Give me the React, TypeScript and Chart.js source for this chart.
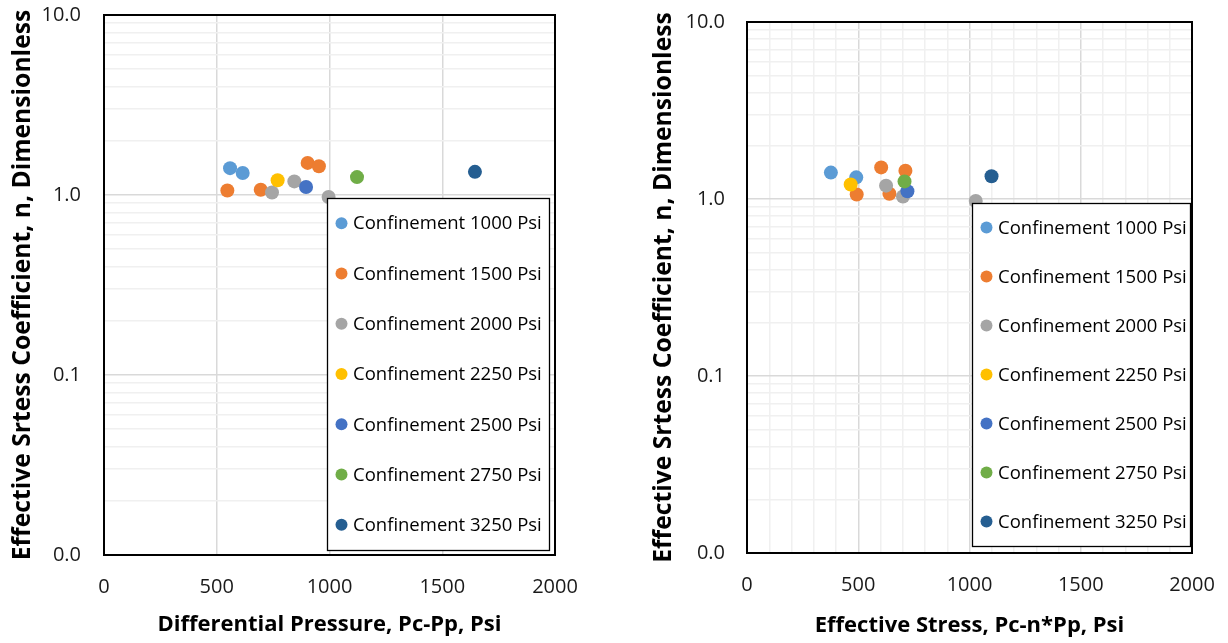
import React, { useEffect, useRef } from "react";
import { Chart, registerables } from "chart.js";

Chart.register(...registerables);

const FONT = '"Open Sans", Lato, "Liberation Sans", sans-serif';

// ---------- data ----------
const seriesLabels = [
  "Confinement 1000 Psi",
  "Confinement 1500 Psi",
  "Confinement 2000 Psi",
  "Confinement 2250 Psi",
  "Confinement 2500 Psi",
  "Confinement 2750 Psi",
  "Confinement 3250 Psi",
];
const seriesColors = ["#5B9BD5", "#ED7D31", "#A5A5A5", "#FFC000", "#4472C4", "#70AD47", "#255E91"];

// Differential pressure, Pc-Pp (psi)
const dp1000 = [559, 615];
const dp1500 = [547, 695, 903, 953];
const dp2000 = [745, 844, 996];
const dp2250 = [770];
const dp2500 = [896];
const dp2750 = [1122];
const dp3250 = [1645];

// Effective stress, Pc-n*Pp (psi)
const es1000 = [377, 491];
const es1500 = [493, 640, 603, 712];
const es2000 = [701, 625, 1028];
const es2250 = [466];
const es2500 = [721];
const es2750 = [708];
const es3250 = [1099];

// Effective stress coefficient n
const n1000 = [1.41, 1.325];
const n1500 = [1.06, 1.07, 1.508, 1.444];
const n2000 = [1.033, 1.19, 0.975];
const n2250 = [1.207];
const n2500 = [1.107];
const n2750 = [1.257];
const n3250 = [1.345];

const xTickValues = [0, 500, 1000, 1500, 2000];
const yDecades = [0.01, 0.1, 1, 10];

const dpSeries = [dp1000, dp1500, dp2000, dp2250, dp2500, dp2750, dp3250];
const esSeries = [es1000, es1500, es2000, es2250, es2500, es2750, es3250];
const nSeries = [n1000, n1500, n2000, n2250, n2500, n2750, n3250];

// ---------- helpers ----------
const isDecade = (v: number) => {
  const l = Math.log10(v);
  return Math.abs(l - Math.round(l)) < 1e-9;
};

const logTicks = () => {
  const out: { value: number }[] = [];
  for (let d = 0; d < yDecades.length - 1; d++) {
    for (let k = 1; k <= 9; k++) {
      out.push({ value: Number((k * yDecades[d]).toPrecision(6)) });
    }
  }
  out.push({ value: yDecades[yDecades.length - 1] });
  return out;
};

const frameLegendPlugin = {
  id: "frameLegend",
  afterDatasetsDraw(chart: any, _args: any, opts: any) {
    const { ctx, chartArea: a } = chart;
    ctx.save();
    ctx.strokeStyle = "#000";
    ctx.lineWidth = 2;
    ctx.strokeRect(a.left, a.top, a.right - a.left, a.bottom - a.top);

    const b = opts.box;
    ctx.fillStyle = "#fff";
    ctx.fillRect(b.left, b.top, b.right - b.left, b.bottom - b.top);
    ctx.lineWidth = 1.3;
    ctx.strokeStyle = "#000";
    ctx.strokeRect(b.left + 0.5, b.top + 0.5, b.right - b.left, b.bottom - b.top);

    const ds = chart.data.datasets;
    const step = (b.bottom - b.top) / ds.length;
    ctx.font = `${opts.fontSize}px ${FONT}`;
    ctx.textBaseline = "middle";
    ctx.textAlign = "left";
    ds.forEach((d: any, i: number) => {
      const cy = b.top + step * (i + 0.5);
      ctx.beginPath();
      ctx.arc(b.left + 14.5, cy, 6, 0, Math.PI * 2);
      ctx.fillStyle = d.backgroundColor;
      ctx.fill();
      ctx.fillStyle = "#000";
      ctx.fillText(d.label, b.left + 26, cy + 1);
    });
    ctx.restore();
  },
};

type Box = { left: number; top: number; right: number; bottom: number };
type PanelSpec = {
  xSeries: number[][];
  xTitle: string;
  minorX: boolean;
  area: Box;
  yTitlePad: number;
  xTitlePad: number;
  yTickPad: number;
  xTickPad: number;
  legendBox: Box;
};

const W = 614;
const H = 643;

function makeConfig(p: PanelSpec): any {
  const datasets = seriesLabels.map((label, i) => ({
    label,
    data: p.xSeries[i].map((x, j) => ({ x, y: nSeries[i][j] })),
    backgroundColor: seriesColors[i],
    borderColor: seriesColors[i],
    borderWidth: 0,
    pointRadius: 7,
    pointHoverRadius: 7,
    order: seriesLabels.length - i,
  }));
  return {
    type: "scatter",
    data: { datasets },
    plugins: [frameLegendPlugin],
    options: {
      responsive: false,
      animation: false,
      events: [],
      layout: { padding: { left: 0, top: p.area.top, right: W - p.area.right, bottom: 0 } },
      plugins: {
        legend: { display: false },
        tooltip: { enabled: false },
        frameLegend: { box: p.legendBox, fontSize: 18.5 },
      },
      scales: {
        x: {
          type: "linear",
          min: xTickValues[0],
          max: xTickValues[xTickValues.length - 1],
          afterFit: (s: any) => {
            s.height = H - p.area.bottom;
            s.paddingLeft = 0;
            s.paddingRight = 0;
          },
          border: { display: false },
          grid: {
            drawTicks: false,
            lineWidth: 1.5,
            color: (c: any) => (c.tick && xTickValues.includes(c.tick.value) ? "#d9d9d9" : "#f0f0f0"),
          },
          ticks: {
            stepSize: p.minorX ? 100 : 500,
            autoSkip: false,
            maxRotation: 0,
            padding: p.xTickPad,
            color: "#1a1a1a",
            font: { family: FONT, size: 20 },
            callback: (v: any) => (xTickValues.includes(Number(v)) ? String(v) : ""),
          },
          title: {
            display: true,
            text: p.xTitle,
            color: "#000",
            font: { family: FONT, size: 22, weight: "bold" },
            padding: { top: 0, bottom: p.xTitlePad },
          },
        },
        y: {
          type: "logarithmic",
          min: yDecades[0],
          max: yDecades[yDecades.length - 1],
          afterBuildTicks: (s: any) => {
            s.ticks = logTicks();
          },
          afterFit: (s: any) => {
            s.width = p.area.left;
            s.paddingTop = 0;
            s.paddingBottom = 0;
          },
          border: { display: false },
          grid: {
            drawTicks: false,
            lineWidth: 1.5,
            color: (c: any) => (c.tick && isDecade(c.tick.value) ? "#d9d9d9" : "#f0f0f0"),
          },
          ticks: {
            autoSkip: false,
            padding: p.yTickPad,
            color: "#1a1a1a",
            font: { family: FONT, size: 20 },
            callback: (v: any) => (isDecade(Number(v)) ? Number(v).toFixed(1) : ""),
          },
          title: {
            display: true,
            text: "Effective Srtess Coefficient, n, Dimensionless",
            color: "#000",
            font: { family: FONT, size: 24.7, weight: "bold" },
            padding: { top: p.yTitlePad, bottom: 0 },
          },
        },
      },
    },
  };
}

const leftSpec: PanelSpec = {
  xSeries: dpSeries,
  xTitle: "Differential Pressure, Pc-Pp, Psi",
  minorX: false,
  area: { left: 104, top: 15, right: 555, bottom: 555 },
  yTitlePad: 8.5,
  xTitlePad: 4.8,
  yTickPad: 23,
  xTickPad: 20,
  legendBox: { left: 327, top: 198, right: 549, bottom: 550 },
};

const rightSpec: PanelSpec = {
  xSeries: esSeries,
  xTitle: "Effective Stress, Pc-n*Pp, Psi",
  minorX: true,
  area: { left: 133, top: 22, right: 578, bottom: 553 },
  yTitlePad: 35.2,
  xTitlePad: 3.8,
  yTickPad: 22,
  xTickPad: 20,
  legendBox: { left: 358, top: 203, right: 576, bottom: 546 },
};

function Panel({ spec }: { spec: PanelSpec }) {
  const ref = useRef<HTMLCanvasElement | null>(null);
  useEffect(() => {
    if (!ref.current) return;
    const chart = new Chart(ref.current, makeConfig(spec));
    return () => chart.destroy();
  }, [spec]);
  return <canvas ref={ref} width={W} height={H} style={{ display: "block", width: W, height: H }} />;
}

export default function App() {
  return (
    <div style={{ position: "absolute", left: 0, top: 0, width: 1228, height: 643, display: "flex", background: "#fff" }}>
      <Panel spec={leftSpec} />
      <Panel spec={rightSpec} />
    </div>
  );
}
